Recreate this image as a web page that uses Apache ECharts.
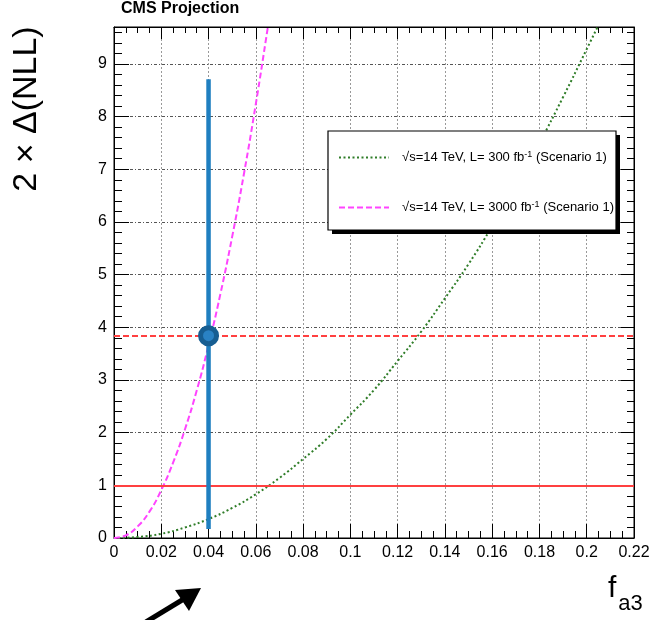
<!DOCTYPE html>
<html>
<head>
<meta charset="utf-8">
<script src="https://cdn.jsdelivr.net/npm/echarts@6/dist/echarts.min.js"></script>
<style>
html,body{margin:0;padding:0;background:#fff;}
#chart{width:654px;height:620px;}
</style>
</head>
<body>
<div id="chart"></div>
<script>
// ---- data ----
const greenName = '{r|√s=14 TeV, L= 300 fb}{sup|-1}{r| (Scenario 1)}';
const magentaName = '{r|√s=14 TeV, L= 3000 fb}{sup|-1}{r| (Scenario 1)}';
const greenX = [0, 0.01, 0.02, 0.03, 0.04, 0.05, 0.06, 0.07, 0.08, 0.09, 0.10, 0.11, 0.12, 0.13, 0.14, 0.15, 0.16, 0.17, 0.18, 0.19, 0.20, 0.21];
const greenY = [0, 0.02, 0.08, 0.20, 0.36, 0.57, 0.83, 1.14, 1.50, 1.88, 2.34, 2.81, 3.36, 3.92, 4.55, 5.20, 5.92, 6.70, 7.50, 8.37, 9.28, 10.20];
const magentaX = [0, 0.005, 0.01, 0.015, 0.02, 0.025, 0.03, 0.035, 0.04, 0.045, 0.05, 0.055, 0.06, 0.065, 0.066];
const magentaY = [0, 0.05, 0.22, 0.50, 0.91, 1.43, 2.06, 2.80, 3.66, 4.63, 5.72, 6.92, 8.24, 9.67, 9.97];
const thresholds = [1, 3.84];
const bestX = [0.04];
const bestY = [3.84];
const bandY = [0.17, 8.71];

const FONT = '"Liberation Sans", Arial, Helvetica, sans-serif';
const chart = echarts.init(document.getElementById('chart'), null, {renderer: 'canvas'});

const zip = (xs, ys) => xs.map((x, i) => [x, ys[i]]);

const axisCommon = {
  axisLine: {show: true, onZero: false, lineStyle: {color: '#000', width: 1}},
};

const option = {
  animation: false,
  backgroundColor: '#fff',
  title: {
    text: 'CMS Projection',
    left: 121, top: 1, padding: 0,
    textStyle: {fontFamily: FONT, fontWeight: 'bold', fontSize: 16, color: '#000'}
  },
  grid: {left: 114, right: 20, top: 27, bottom: 82, show: true, borderColor: '#000', borderWidth: 1, containLabel: false},
  legend: {
    orient: 'vertical',
    left: 328, top: 131,
    padding: [19, 6, 16, 10],
    itemGap: 36,
    itemWidth: 50, itemHeight: 14,
    z: 20,
    itemStyle: {opacity: 0},
    data: [greenName, magentaName],
    formatter: (n) => n,
    textStyle: {
      fontFamily: FONT, fontSize: 13, color: '#000', padding: [0, 0, 0, 8],
      rich: {
        r: {fontFamily: FONT, fontSize: 13, color: '#000', lineHeight: 15},
        sup: {fontFamily: FONT, fontSize: 9, color: '#000', verticalAlign: 'top', lineHeight: 10}
      }
    }
  },
  xAxis: [
    Object.assign({}, axisCommon, {
      type: 'value', min: 0, max: 0.22, interval: 0.02, position: 'bottom',
      axisTick: {inside: true, length: 14, lineStyle: {color: '#000'}},
      minorTick: {show: true, splitNumber: 4, length: 7, lineStyle: {color: '#000'}},
      splitLine: {show: true, lineStyle: {color: '#999', type: [2, 2], width: 1}},
      axisLabel: {fontFamily: FONT, fontSize: 16, color: '#000', margin: 7}
    }),
    Object.assign({}, axisCommon, {
      type: 'value', min: 0, max: 0.22, interval: 0.02, position: 'top',
      axisTick: {inside: true, length: 12, lineStyle: {color: '#000'}},
      minorTick: {show: true, splitNumber: 4, length: 6, lineStyle: {color: '#000'}},
      splitLine: {show: false},
      axisLabel: {show: false}
    })
  ],
  yAxis: [
    Object.assign({}, axisCommon, {
      type: 'value', min: 0, max: 9.7, interval: 1, position: 'left',
      axisTick: {inside: true, length: 15, lineStyle: {color: '#000'}},
      minorTick: {show: true, splitNumber: 5, length: 8, lineStyle: {color: '#000'}},
      splitLine: {show: true, lineStyle: {color: '#555', type: [3, 2, 1, 2], width: 1}},
      axisLabel: {fontFamily: FONT, fontSize: 16, color: '#000', margin: 7, showMaxLabel: false}
    }),
    Object.assign({}, axisCommon, {
      type: 'value', min: 0, max: 9.7, interval: 1, position: 'right',
      axisTick: {inside: true, length: 13, lineStyle: {color: '#000'}},
      minorTick: {show: true, splitNumber: 5, length: 7, lineStyle: {color: '#000'}},
      splitLine: {show: false},
      axisLabel: {show: false}
    })
  ],
  series: [
    {
      name: greenName, type: 'line', xAxisIndex: 0, yAxisIndex: 0,
      data: zip(greenX, greenY), smooth: true, symbol: 'none', clip: true,
      lineStyle: {color: '#2f7d28', width: 2, type: [2, 2.5]},
      itemStyle: {color: '#2f7d28'}, z: 3
    },
    {
      name: magentaName, type: 'line', xAxisIndex: 0, yAxisIndex: 0,
      data: zip(magentaX, magentaY), smooth: true, symbol: 'none', clip: true,
      lineStyle: {color: '#ff44ff', width: 2, type: [6, 3]},
      itemStyle: {color: '#ff44ff'}, z: 3
    },
    {
      name: 'thresholds', type: 'line', data: [], xAxisIndex: 0, yAxisIndex: 0,
      markLine: {
        silent: true, symbol: 'none', label: {show: false},
        data: [
          {yAxis: thresholds[0], lineStyle: {color: '#ff4040', width: 1.8, type: 'solid'}},
          {yAxis: thresholds[1], lineStyle: {color: '#ff4040', width: 1.8, type: [6, 3]}}
        ]
      }, z: 4
    },
    {
      name: 'band', type: 'line', xAxisIndex: 0, yAxisIndex: 0,
      data: bandY.map(y => [bestX[0], y]), symbol: 'none',
      lineStyle: {color: '#1f7fc0', width: 4.5, cap: 'butt'}, z: 5
    },
    {
      name: 'best', type: 'scatter', xAxisIndex: 0, yAxisIndex: 0,
      data: zip(bestX, bestY), symbol: 'circle', symbolSize: 16,
      itemStyle: {color: '#2a82c4', borderColor: '#175e92', borderWidth: 5, opacity: 1}, z: 6
    }
  ],
  graphic: [
    // legend frame (shadow + box)
    {
      type: 'rect', z: 15, shape: {x: 332, y: 135, width: 288, height: 99},
      style: {fill: '#000'}
    },
    {
      type: 'rect', z: 16, shape: {x: 328, y: 131, width: 288, height: 99},
      style: {fill: '#fff', stroke: '#000', lineWidth: 1.2}
    },
    {
      type: 'text', x: 27, y: 109, rotation: Math.PI / 2,
      style: {text: '2 × Δ(NLL)', fontFamily: FONT, fontSize: 34, fill: '#000', align: 'center', verticalAlign: 'middle'}
    },
    {
      type: 'text', x: 608, y: 574,
      style: {
        text: '{f|f}{s|a3}',
        rich: {
          f: {fontFamily: FONT, fontSize: 30, lineHeight: 30, fill: '#000', color: '#000', verticalAlign: 'top'},
          s: {fontFamily: FONT, fontSize: 22, lineHeight: 22, fill: '#000', color: '#000', verticalAlign: 'top', padding: [19, 0, 0, 2]}
        }
      }
    },
    {
      type: 'line', shape: {x1: 146, y1: 622, x2: 192, y2: 594},
      style: {stroke: '#000', lineWidth: 5}
    },
    {
      type: 'polygon', shape: {points: [[201, 588], [175, 590], [189, 611]]},
      style: {fill: '#000'}
    }
  ]
};
chart.setOption(option);
</script>
</body>
</html>
